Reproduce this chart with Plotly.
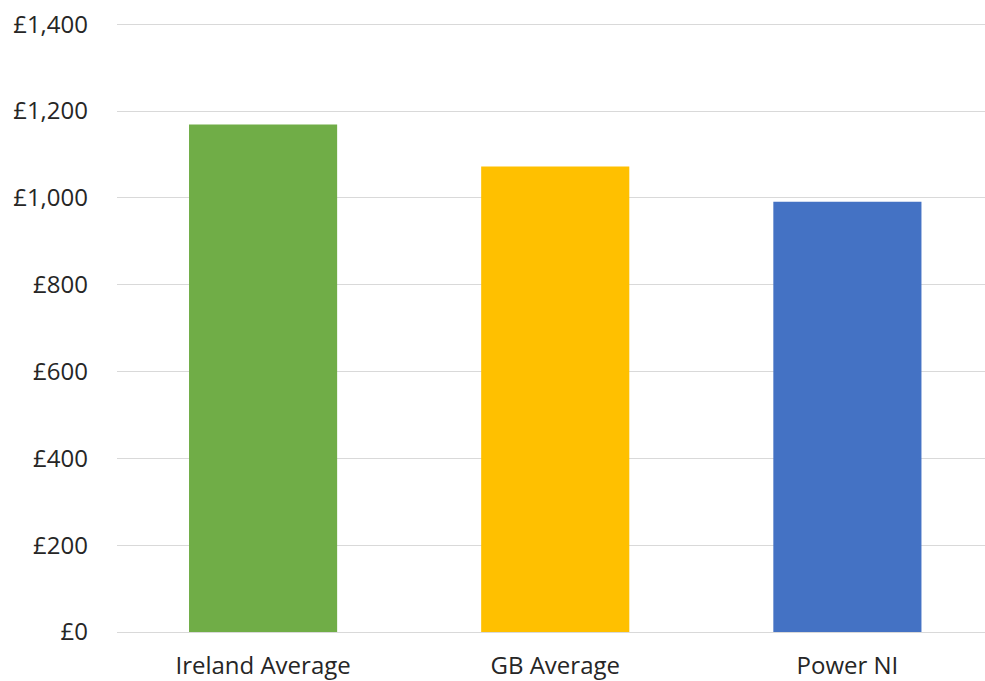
import plotly.graph_objects as go

categories = ["Ireland Average", "GB Average", "Power NI"]
values = [1169, 1072, 991]
colors = ["#70AD47", "#FFC000", "#4472C4"]
y_ticks = [0, 200, 400, 600, 800, 1000, 1200, 1400]
y_tick_labels = ["£0", "£200", "£400", "£600", "£800", "£1,000", "£1,200", "£1,400"]

fig = go.Figure(
    go.Bar(
        x=categories,
        y=values,
        marker=dict(color=colors, line=dict(width=0)),
        width=0.507,
    )
)

fig.update_layout(
    width=985,
    height=681,
    margin=dict(l=117, r=0, t=22, b=49),
    paper_bgcolor="white",
    plot_bgcolor="white",
    showlegend=False,
    font=dict(family="Open Sans, sans-serif", size=24, color="#262626"),
    xaxis=dict(
        range=[-0.5, 2.471],
        showgrid=False,
        showline=False,
        ticks="",
        ticklabelstandoff=17,
        tickfont=dict(size=24, color="#262626"),
    ),
    yaxis=dict(
        range=[0, 1405],
        tickvals=y_ticks,
        ticktext=y_tick_labels,
        showgrid=True,
        gridcolor="#d9d9d9",
        gridwidth=1,
        zeroline=True,
        zerolinecolor="#d9d9d9",
        zerolinewidth=1,
        showline=False,
        ticks="",
        ticklabelstandoff=28,
        tickfont=dict(size=24, color="#262626"),
    ),
)

fig.write_html("out.html")
